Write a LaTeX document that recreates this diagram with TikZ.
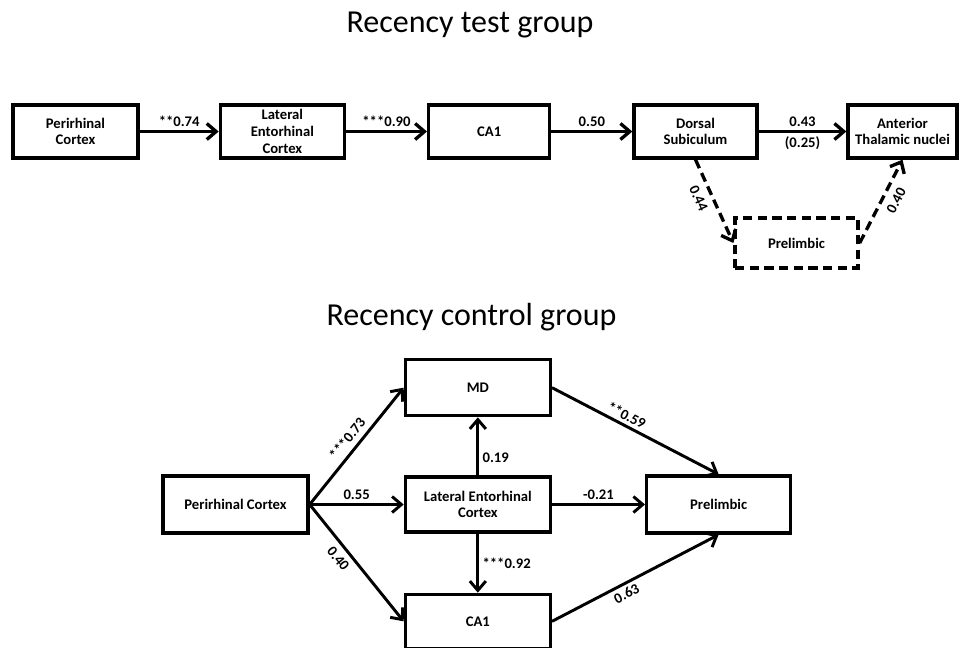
\documentclass[tikz,border=0pt]{standalone}
\usepackage{fontspec}
\setmainfont{Carlito}
\usetikzlibrary{arrows.meta}
\usetikzlibrary{positioning}
\newdimen\px \px=0.75pt

\begin{document}
\begin{tikzpicture}[x=0.75pt,y=-0.75pt,
  box/.style={draw,line width=2.5pt,inner sep=1pt,align=center,font=\bfseries\fontsize{11}{12.5}\selectfont},
  arr/.style={line width=2.5pt,-{Straight Barb[length=7pt,width=12pt]}},
  lbl/.style={font=\bfseries\fontsize{11}{12.5}\selectfont,inner sep=2.5pt},
  ttl/.style={font=\fontsize{24}{28}\selectfont,anchor=base}]
  \useasboundingbox (0,0) rectangle (961,647);

  \node[ttl] (t1) at (470,32) {Recency test group};
  \node[ttl] (t2) at (471.5,325) {Recency control group};

  \node[box,minimum width=125\px,minimum height=53\px] (1) at (75.5,131.5) {Perirhinal\\Cortex};
  \node[box,minimum width=124\px,minimum height=53\px,right=79\px of 1] (2) {Lateral\\Entorhinal\\Cortex};
  \node[box,minimum width=121\px,minimum height=53\px,right=81\px of 2] (3) {CA1};
  \node[box,minimum width=123\px,minimum height=53\px,right=81\px of 3] (4) {Dorsal\\Subiculum};
  \node[box,minimum width=109\px,minimum height=53\px] (5) at (902.5,131.5) {Anterior\\Thalamic nuclei};
  \node[box,dash pattern=on 7pt off 4pt,minimum width=123\px,minimum height=50\px] (6) at (796.5,243) {Prelimbic};

  \node[box,minimum width=145\px,minimum height=57\px] (7) at (235.5,504.5) {Perirhinal Cortex};
  \node[box,minimum width=145\px,minimum height=55\px,right=94\px of 7] (9) {Lateral Entorhinal\\Cortex};
  \node[box,minimum width=145\px,minimum height=56\px,above=58\px of 9] (8) {MD};
  \node[box,minimum width=145\px,minimum height=54\px,below=59\px of 9] (10) {CA1};
  \node[box,minimum width=144\px,minimum height=57\px,right=93\px of 9] (11) {Prelimbic};

  \draw[arr](1)--node[lbl,above]{**0.74}(2);
  \draw[arr](2)--node[lbl,above]{***0.90}(3);
  \draw[arr](3)--node[lbl,above]{0.50}(4);
  \draw[arr](4)--node[lbl,above]{0.43}node[lbl,below]{(0.25)}(5);
  \draw[arr,dash pattern=on 7pt off 4pt](4.south)--node[lbl,sloped,below,pos=0.4,inner sep=5pt]{0.44}(6.west);
  \draw[arr,dash pattern=on 7pt off 4pt](6.east)--node[lbl,sloped,below,pos=0.58,inner sep=5pt]{0.40}(5.south);

  \draw[arr,line width=2.2pt](7.east)--node[lbl,sloped,above,inner sep=4pt]{***0.73}(8.west);
  \draw[arr,line width=2.2pt](7.east)--node[lbl,above]{0.55}(9.west);
  \draw[arr,line width=2.2pt](7.east)--node[lbl,sloped,below,pos=0.4,inner sep=4pt]{0.40}(10.west);
  \draw[arr,line width=2.2pt](9)--node[lbl,right,pos=0.3]{0.19}(8);
  \draw[arr,line width=2.2pt](9)--node[lbl,right]{***0.92}(10);
  \draw[arr,line width=2.2pt](9)--node[lbl,above]{-0.21}(11);
  \draw[arr,line width=2.2pt](8.east)--node[lbl,sloped,above,pos=0.42]{**0.59}(11.north);
  \draw[arr,line width=2.2pt](10.east)--node[lbl,sloped,below,pos=0.42]{0.63}(11.south);
\end{tikzpicture}
\end{document}
